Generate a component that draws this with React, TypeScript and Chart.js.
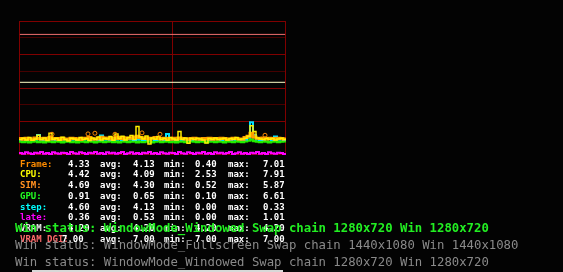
import React, { useEffect, useRef } from "react";
import { Chart, registerables } from "chart.js";

Chart.register(...registerables);

// ---- data (ms per sample) ----
const gpuMs = [4.0,3.9,4.1,3.8,4.0,4.2,3.9,4.0,3.8,4.1,4.0,3.9,4.2,4.0,3.8,4.0,4.1,3.9,4.0,3.8,4.1,4.0,3.9,4.2,4.0,3.8,4.0,4.1,3.9,4.0,4.2,3.9,4.0,3.8,4.1,4.0,3.9,4.0,4.1,3.8,4.0,3.9,4.1,4.0,3.8,4.0,4.2,3.9,4.0,4.1,3.9,4.0,3.8,4.0,4.1,3.9,4.0,4.2,4.0,3.9,4.1,4.0,3.8,4.0,4.1,3.9,4.0,4.0,3.8,4.1,4.0,3.9,4.2,4.0,3.9,4.1,4.3,4.6,4.2,4.0,3.9,4.1,4.0,3.8,4.0,4.1,3.9,4.0,4.1,4.0];
const stepMs = [4.6,4.7,4.5,4.8,4.6,4.7,6.0,4.6,4.5,4.7,4.8,4.6,4.5,4.7,4.6,4.8,4.5,4.6,4.7,4.5,4.6,4.8,4.7,4.5,4.6,4.7,4.5,5.8,4.6,4.7,4.5,4.8,4.6,4.7,4.5,4.6,4.8,4.7,4.5,4.6,4.7,4.5,4.6,4.8,4.7,4.5,4.6,4.7,4.5,6.3,4.6,4.7,4.5,4.8,4.6,4.7,4.5,4.6,4.8,4.7,4.5,4.6,4.7,4.5,4.6,4.8,4.7,4.5,4.6,4.7,4.5,4.6,4.8,4.7,4.5,4.6,5.2,9.8,6.0,4.7,4.5,4.6,4.8,4.7,4.5,5.5,4.6,4.7,4.5,4.6];
const frameMs = [4.9,4.7,5.0,4.8,4.6,5.1,4.9,4.8,5.0,4.7,5.2,4.8,4.9,4.6,5.0,4.8,4.7,5.0,4.9,4.8,4.6,5.0,4.9,5.2,4.8,4.7,5.0,5.3,4.9,5.1,4.8,5.0,5.4,4.9,5.2,4.8,5.1,5.0,5.3,5.6,5.2,4.9,5.1,4.8,5.0,5.2,4.9,4.8,5.0,4.9,4.7,5.0,4.8,5.1,4.9,4.8,4.7,4.9,5.0,4.8,4.7,4.9,4.8,5.0,4.7,4.9,4.8,5.0,4.9,4.7,4.8,5.0,4.9,4.8,4.7,5.2,5.6,6.5,5.4,5.0,4.9,5.1,4.8,5.0,4.9,4.8,5.0,4.9,4.8,5.0];
const cpuMs = [4.6,5.0,4.5,5.2,4.4,4.8,5.9,4.6,5.1,4.3,6.5,4.7,5.0,4.4,5.3,4.6,4.2,5.0,4.8,4.5,5.2,4.6,4.9,4.3,5.1,4.7,5.4,4.5,5.0,4.8,5.5,4.4,6.3,4.9,5.6,4.5,5.2,5.8,4.6,8.5,5.4,4.8,5.7,3.3,5.1,4.7,5.5,4.6,5.0,4.4,5.2,4.8,4.5,7.0,4.7,5.1,3.5,4.9,4.6,5.0,4.8,4.5,3.6,4.9,4.7,5.1,4.6,4.8,5.0,4.5,4.9,4.7,5.2,4.6,4.8,5.0,5.6,8.7,7.0,5.1,4.8,4.6,5.0,4.7,4.9,4.5,4.8,5.0,4.6,4.9];
const lateMs = [0.6,0.4,0.8,0.5,0.3,0.7,0.5,0.9,0.4,0.6,0.3,0.8,0.5,0.4,0.7,0.6,0.3,0.9,0.5,0.4,0.8,0.6,0.3,0.7,0.5,0.9,0.4,0.6,0.3,0.8,0.5,0.7,0.4,0.6,0.9,0.3,0.5,0.8,0.4,0.6,0.3,0.7,0.5,0.9,0.4,0.6,0.3,0.8,0.5,0.4,0.7,0.6,0.3,0.9,0.5,0.4,0.8,0.6,0.3,0.7,0.5,0.9,0.4,0.6,0.3,0.8,0.5,0.7,0.4,0.6,0.9,0.3,0.5,0.8,0.4,0.6,0.3,0.7,0.5,0.9,0.4,0.6,0.3,0.8,0.5,0.4,0.7,0.6,0.3,0.5];
const simPeakIdx = [11, 23, 25.3, 32, 41, 47, 82];
const simPeakMs = [6.2, 6.3, 6.5, 6.2, 6.6, 6.2, 5.9];

const budgetHighMs = 36.0;
const budgetLowMs = 21.7;
const markerIndex = 51;
const yMin = 0;
const yMax = 40;
const yGridStep = 5;

// ---- text rows ----
const rowLabels = ["Frame:", "CPU:", "SIM:", "GPU:", "step:", "late:", "VRAM:", "VRAM DGI:"];
const rowColors = ["#ff8c00", "#ffff00", "#ff9020", "#22ff22", "#00ffff", "#ff00ff", "#e8e8e8", "#ff6b6b"];
const rowCur = ["4.33", "4.42", "4.69", "0.91", "4.60", "0.36", "4.20", "7.00"];
const rowAvg = ["4.13", "4.09", "4.30", "0.65", "4.13", "0.53", "4.20", "7.00"];
const rowMin = ["0.40", "2.53", "0.52", "0.10", "0.00", "0.00", "4.20", "7.00"];
const rowMax = ["7.01", "7.91", "5.87", "6.61", "0.33", "1.01", "4.20", "7.00"];
const statusLines = [
  "Win status: WindowMode_Windowed Swap chain 1280x720 Win 1280x720",
  "Win status: WindowMode_Fullscreen Swap chain 1440x1080 Win 1440x1080",
  "Win status: WindowMode_Windowed Swap chain 1280x720 Win 1280x720",
];
const statusColors = ["#22ee22", "#8a8a8a", "#8a8a8a"];

const toPts = (arr: number[]) => arr.map((v, i) => ({ x: i, y: v }));

const overlayGrid = {
  id: "overlayGrid",
  beforeDatasetsDraw(chart: any) {
    const { ctx, chartArea, scales } = chart;
    const { left, right, top, bottom } = chartArea;
    ctx.save();
    ctx.lineWidth = 1;
    for (let v = yMin; v <= yMax; v += yGridStep) {
      let py = Math.floor(scales.y.getPixelForValue(v));
      if (py >= bottom) py = bottom - 1;
      ctx.strokeStyle = v % 10 === 0 ? "#800000" : "#450000";
      ctx.beginPath();
      ctx.moveTo(left, py + 0.5);
      ctx.lineTo(right, py + 0.5);
      ctx.stroke();
    }
    ctx.strokeStyle = "#800000";
    const xs = [scales.x.getPixelForValue(scales.x.min), scales.x.getPixelForValue(markerIndex), scales.x.getPixelForValue(scales.x.max) - 1];
    for (const xv of xs) {
      const px = Math.floor(xv) + 0.5;
      ctx.beginPath();
      ctx.moveTo(px, top);
      ctx.lineTo(px, bottom);
      ctx.stroke();
    }
    ctx.restore();
  },
};

function OverlayChart() {
  const ref = useRef<HTMLCanvasElement | null>(null);
  useEffect(() => {
    if (!ref.current) return;
    const last = frameMs.length - 1;
    const line = (data: any[], color: string, w: number, order: number) => ({
      data,
      borderColor: color,
      borderWidth: w,
      stepped: true,
      pointRadius: 0,
      fill: false,
      order,
    });
    const chart = new Chart(ref.current, {
      type: "line",
      data: {
        datasets: [
          {
            type: "scatter",
            data: simPeakIdx.map((x, i) => ({ x, y: simPeakMs[i] })),
            borderColor: "#ff8a00",
            backgroundColor: "rgba(0,0,0,0)",
            borderWidth: 1,
            pointRadius: 2,
            showLine: false,
            order: 0,
          } as any,
          line(toPts(cpuMs), "#ffee00", 1.5, 1),
          line(toPts(frameMs), "#ffa000", 3, 2),
          line(toPts(stepMs), "#00e0ff", 2, 3),
          line(toPts(gpuMs), "#22ee00", 2.5, 4),
          line(toPts(lateMs), "#ff00ff", 2, 5),
          line([{ x: 0.3, y: budgetLowMs }, { x: last - 0.3, y: budgetLowMs }], "#ffffc8", 1, 6),
          line([{ x: 0.3, y: budgetHighMs }, { x: last - 0.3, y: budgetHighMs }], "#f07070", 1, 7),
        ],
      },
      options: {
        responsive: false,
        animation: false,
        layout: { padding: { left: 19, top: 21, right: 563 - 286, bottom: 272 - 155 } },
        scales: {
          x: { type: "linear", min: 0, max: last, display: false },
          y: { min: yMin, max: yMax, display: false },
        },
        plugins: { legend: { display: false }, tooltip: { enabled: false } },
      },
      plugins: [overlayGrid],
    } as any);
    return () => chart.destroy();
  }, []);
  return <canvas ref={ref} width={563} height={272} style={{ position: "absolute", left: 0, top: 0, width: 563, height: 272 }} />;
}

const rowFont: React.CSSProperties = {
  position: "absolute",
  fontFamily: "'DejaVu Sans Mono', monospace",
  fontWeight: "bold",
  fontSize: 9,
  lineHeight: "9px",
  whiteSpace: "pre",
};

export default function App() {
  const colX = [68, 100, 133, 164, 195, 228, 263];
  return (
    <div style={{ position: "fixed", left: 0, top: 0, width: 563, height: 272, background: "#030303", overflow: "hidden" }}>
      <OverlayChart />
      {rowLabels.map((lab, i) => {
        const top = 159.7 + 10.7 * i;
        const vals = [rowCur[i], "avg:", rowAvg[i], "min:", rowMin[i], "max:", rowMax[i]];
        return (
          <React.Fragment key={lab}>
            <div style={{ ...rowFont, left: 20, top, color: rowColors[i] }}>{lab}</div>
            {vals.map((t, j) => (
              <div key={j} style={{ ...rowFont, left: j === 0 && lab.length > 6 ? 62 : colX[j], top, color: "#ffffff" }}>{t}</div>
            ))}
          </React.Fragment>
        );
      })}
      {[statusLines[1], statusLines[2]].map((t, i) => (
        <div key={i} style={{ position: "absolute", left: 15, top: 239.2 + 16.5 * i, fontFamily: "'DejaVu Sans Mono', monospace", fontSize: 12.3, lineHeight: "12.3px", whiteSpace: "pre", color: statusColors[i + 1] }}>{t}</div>
      ))}
      <div style={{ position: "absolute", left: 15, top: 222.4, fontFamily: "'DejaVu Sans Mono', monospace", fontWeight: "bold", fontSize: 12.3, lineHeight: "12.3px", whiteSpace: "pre", color: statusColors[0] }}>{statusLines[0]}</div>
      <div style={{ position: "absolute", left: 32, top: 270, width: 251, height: 2, background: "#d8d8d8" }} />
    </div>
  );
}
